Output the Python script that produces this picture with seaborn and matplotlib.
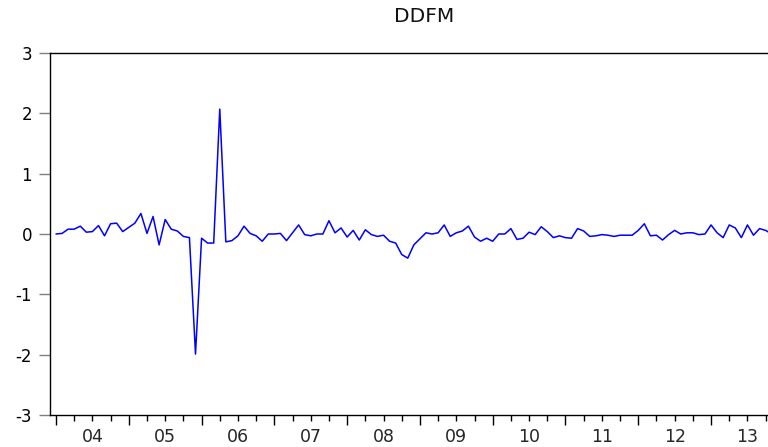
import numpy as np
import pandas as pd
import matplotlib
matplotlib.use("Agg")
import matplotlib.pyplot as plt
import seaborn as sns

# Monthly observations starting 2004M01
start_period = "2004-01"
ddfm = [
    0.00, 0.01, 0.08, 0.08, 0.13, 0.03, 0.04, 0.14, -0.03, 0.17, 0.18, 0.04,
    0.11, 0.18, 0.34, 0.01, 0.29, -0.18, 0.24, 0.08, 0.05, -0.04, -0.06, -1.99,
    -0.07, -0.15, -0.15, 2.07, -0.13, -0.11, -0.03, 0.13, 0.01, -0.03, -0.12, 0.00,
    0.00, 0.01, -0.11, 0.02, 0.15, -0.01, -0.03, 0.00, 0.00, 0.22, 0.02, 0.10,
    -0.05, 0.06, -0.10, 0.07, -0.01, -0.04, -0.02, -0.12, -0.15, -0.34, -0.40, -0.18,
    -0.08, 0.02, 0.00, 0.02, 0.15, -0.04, 0.02, 0.05, 0.13, -0.05, -0.12, -0.07,
    -0.12, 0.00, 0.00, 0.09, -0.09, -0.07, 0.03, -0.01, 0.12, 0.04, -0.06, -0.03,
    -0.06, -0.07, 0.09, 0.05, -0.04, -0.03, -0.01, -0.02, -0.04, -0.02, -0.02, -0.02,
    0.06, 0.17, -0.03, -0.02, -0.10, -0.01, 0.06, 0.00, 0.02, 0.02, -0.01, 0.00,
    0.15, 0.02, -0.06, 0.15, 0.10, -0.06, 0.15, -0.02, 0.09, 0.06, 0.00,
]
year_labels = ["04", "05", "06", "07", "08", "09", "10", "11", "12", "13"]
y_ticks = [-3, -2, -1, 0, 1, 2, 3]
title = "DDFM"

periods = pd.period_range(start_period, periods=len(ddfm), freq="M")
df = pd.DataFrame({"period": periods.astype(str), "obs": np.arange(len(ddfm)), "DDFM": ddfm})

sns.set_style("ticks")
plt.rcParams["font.family"] = ["DejaVu Sans"]

W, H = 768, 447
fig = plt.figure(figsize=(W / 100, H / 100), dpi=100)
ax = fig.add_axes([50 / W, (H - 415) / H, (772 - 50) / W, (415 - 53) / H])

sns.lineplot(data=df, x="obs", y="DDFM", ax=ax, color="#0000FF", linewidth=1.1)

ax.set_xlim(-0.99, 118.05)
ax.set_ylim(-3, 3)
ax.set_xlabel("")
ax.set_ylabel("")

for s in ["left", "bottom", "top", "right"]:
    ax.spines[s].set_color("black")
    ax.spines[s].set_linewidth(1.0)

ax.set_yticks(y_ticks)
ax.set_yticklabels([str(v) for v in y_ticks])
ax.tick_params(axis="y", which="major", direction="out", length=8, width=1.0,
               color="#808080", pad=5, labelsize=12, labelcolor="black")

n_years = len(year_labels)
year_starts = [12 * k for k in range(n_years)]
quarters = [3 * k for k in range(4 * n_years) if (3 * k) % 12 != 0]
ax.set_xticks(year_starts)
ax.set_xticklabels([""] * n_years)
ax.set_xticks(quarters, minor=True)
ax.tick_params(axis="x", which="major", direction="out", length=7, width=1.0, color="black")
ax.tick_params(axis="x", which="minor", direction="out", length=4, width=1.0, color="black")

sec = ax.secondary_xaxis("bottom")
sec.set_xticks([12 * k + 6 for k in range(n_years)])
sec.set_xticklabels(year_labels)
sec.tick_params(axis="x", length=0, pad=9, labelsize=12.5)
sec.spines["bottom"].set_visible(False)

fig.text(424 / W, 1 - 16 / H, title, ha="center", va="center", fontsize=14.5, color="#111111")

fig.savefig("out.png", dpi=100)
